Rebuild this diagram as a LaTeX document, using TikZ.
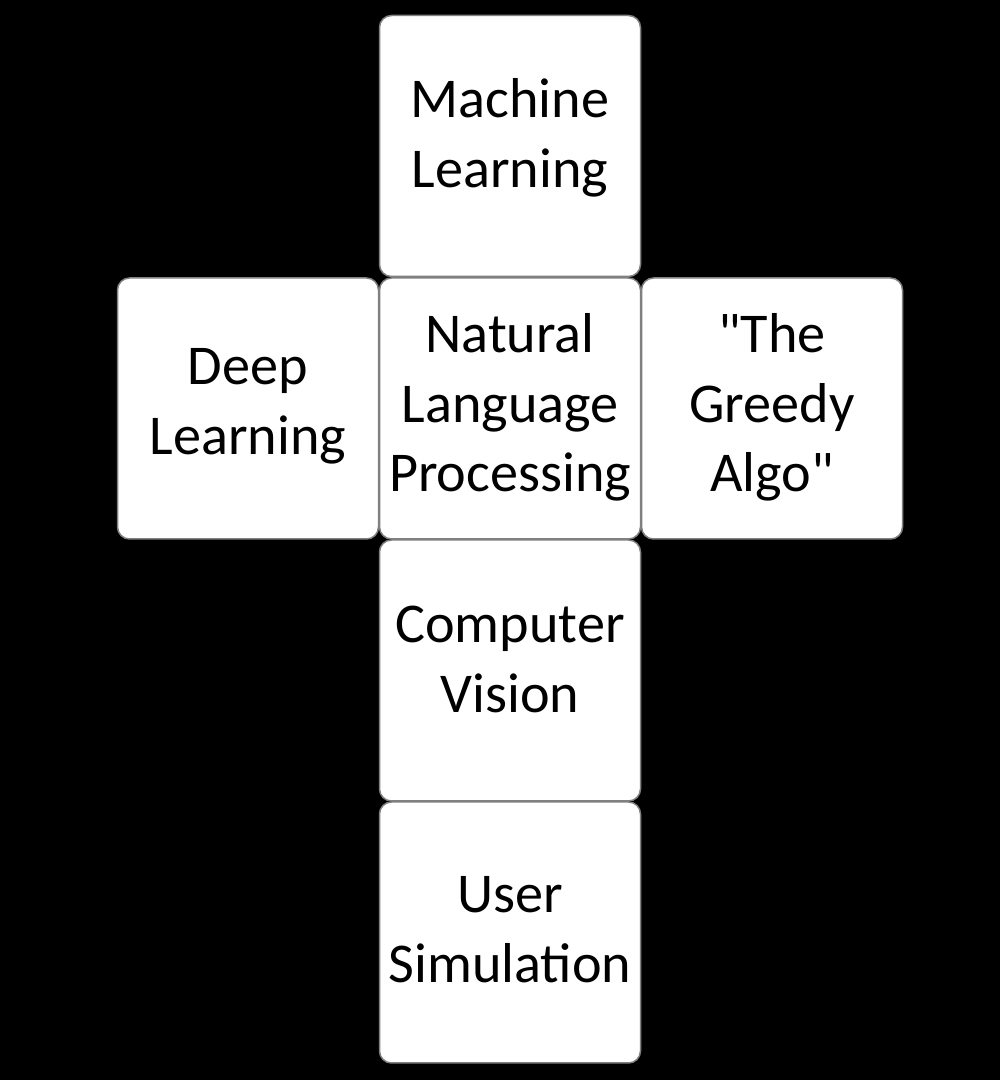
\documentclass[tikz,border=0pt]{standalone}
\usepackage{fontspec}
\setmainfont{Carlito}[Ligatures=TeXOff]
\newcommand\cbox[1]{\vtop{\baselineskip=69.5pt\halign{\hfil##\hfil\cr#1\crcr}}}
\newcommand\sq{\symbol{34}}
\begin{document}
\begin{tikzpicture}[x=1pt,y=1pt,
  cell/.style={rectangle,rounded corners=12pt,fill=white,draw=black!50,line width=1.5pt,minimum width=261pt,minimum height=261pt,inner sep=0pt},
  label/.style={anchor=base,inner sep=0pt,font=\fontsize{56.2}{69.5}\selectfont,text=black}]
\useasboundingbox[fill=black] (0,0) rectangle (1000,1080);
% boxes (y = 1080 - pixel row)
\node[cell] (ml) at (510,934) {};
\node[cell] (dl) at (248,671.5) {};
\node[cell] (nlp) at (510,671.5) {};
\node[cell] (ga) at (772,671.5) {};
\node[cell] (cv) at (510,409.5) {};
\node[cell] (us) at (510,147.5) {};
% texts (first baseline)
\node[label] (mlt) at (510,962) {\cbox{Machine\cr Learning}};
\node[label] (dlt) at (248,695) {\cbox{Deep\cr Learning}};
\node[label] (nlpt) at (510,727) {\cbox{Natural\cr Language\cr Processing}};
\node[label] (gat) at (772,727) {\cbox{\sq The\cr Greedy\cr Algo\sq}};
\node[label] (cvt) at (510,437) {\cbox{Computer\cr Vision}};
\node[label] (ust) at (510,167) {\cbox{User\cr Simulation}};
\end{tikzpicture}
\end{document}
